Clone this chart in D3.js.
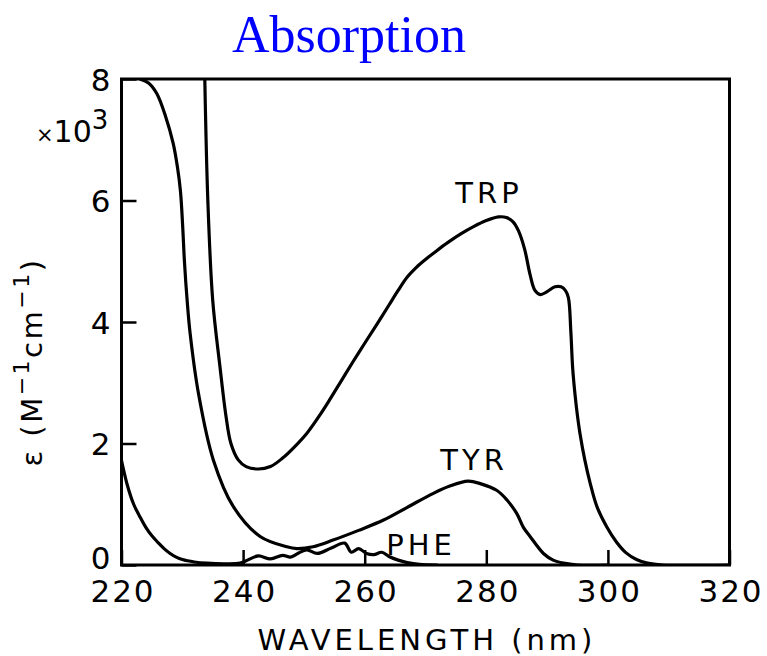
<!DOCTYPE html>
<html>
<head>
<meta charset="utf-8">
<script src="https://cdn.jsdelivr.net/npm/d3@7"></script>
<style>
  html, body { margin: 0; padding: 0; background: #fff; }
  svg { display: block; }
  .lbl { font-family: "DejaVu Sans", sans-serif; fill: #000; }
</style>
</head>
<body>
<svg id="chart" width="767" height="656"></svg>
<script>
// Molar absorptivity (x10^3 M^-1 cm^-1) of the aromatic amino acids vs wavelength (nm)
const trpWavelength = [233.7, 234.2, 235.0, 236.2, 237.2, 238.0, 239.2, 240.5, 242.5, 244.5, 246.5, 248.5, 250.5, 252.5, 254.3, 256.2, 258.1, 260.0, 262.0, 264.0, 265.5, 267.0, 268.5, 270.0, 271.8, 273.7, 275.8, 277.9, 280.0, 282.0, 283.3, 284.4, 285.3, 286.3, 287.2, 288.0, 288.9, 290.0, 291.3, 292.3, 293.0, 293.5, 293.9, 294.2, 294.6, 295.0, 295.4, 296.2, 297.1, 298.2, 299.8, 301.4, 303.0, 304.7, 306.5, 309.0, 320.0];
const trpEpsilon    = [8.00, 6.00, 4.36, 3.26, 2.44, 2.00, 1.73, 1.62, 1.58, 1.62, 1.76, 1.95, 2.17, 2.45, 2.73, 3.04, 3.35, 3.65, 3.96, 4.28, 4.52, 4.74, 4.90, 5.03, 5.17, 5.31, 5.45, 5.57, 5.67, 5.73, 5.72, 5.65, 5.50, 5.20, 4.78, 4.52, 4.45, 4.50, 4.58, 4.58, 4.52, 4.40, 3.85, 3.25, 2.80, 2.45, 2.17, 1.73, 1.34, 0.96, 0.63, 0.38, 0.20, 0.09, 0.03, 0.00, 0.00];

const tyrWavelength = [223.0, 224.5, 225.8, 227.2, 228.5, 229.2, 229.7, 230.05, 230.35, 230.8, 231.3, 232.7, 235.1, 238.4, 242.8, 247.2, 248.8, 251.5, 254.8, 259.0, 263.1, 267.0, 271.3, 274.0, 277.0, 279.0, 281.7, 283.4, 285.0, 286.1, 287.2, 289.4, 291.0, 292.7, 295.0, 300.0];
const tyrEpsilon    = [8.00, 7.93, 7.76, 7.40, 6.94, 6.55, 6.15, 5.60, 5.00, 4.35, 3.80, 2.80, 1.73, 0.96, 0.47, 0.30, 0.27, 0.30, 0.41, 0.57, 0.74, 0.95, 1.18, 1.30, 1.38, 1.34, 1.23, 1.07, 0.85, 0.62, 0.47, 0.19, 0.08, 0.03, 0.00, 0.00];

const pheWavelength = [220.0, 221.0, 222.0, 223.0, 224.0, 225.0, 226.0, 227.0, 228.0, 229.0, 230.0, 232.0, 234.0, 237.0, 239.5, 240.5, 242.5, 244.5, 246.5, 247.8, 249.0, 250.5, 252.2, 254.5, 256.7, 257.8, 259.0, 260.3, 261.5, 262.8, 264.0, 265.5, 267.0, 269.0, 272.0];
const pheEpsilon    = [1.72, 1.30, 1.00, 0.80, 0.62, 0.48, 0.37, 0.27, 0.19, 0.13, 0.09, 0.05, 0.03, 0.02, 0.03, 0.07, 0.15, 0.10, 0.16, 0.13, 0.19, 0.25, 0.19, 0.28, 0.36, 0.21, 0.27, 0.19, 0.17, 0.21, 0.14, 0.08, 0.04, 0.01, 0.00];

const seriesNames = ["TRP", "TYR", "PHE"];
const xTicks = [220, 240, 260, 280, 300, 320];
const yTicks = [0, 2, 4, 6, 8];

const svg = d3.select("#chart");
const plotLeft = 121.5, plotRight = 729.5, plotTop = 79, plotBottom = 565;

const x = d3.scaleLinear().domain([220, 320]).range([plotLeft, plotRight]);
const y = d3.scaleLinear().domain([0, 8]).range([plotBottom, plotTop]);

// title
svg.append("text")
  .attr("x", 349).attr("y", 52)
  .attr("text-anchor", "middle")
  .style("font-family", "'Liberation Serif', 'Times New Roman', serif")
  .style("font-size", "52px")
  .style("fill", "#0000ff")
  .text("Absorption");

// clip path for the curves
svg.append("clipPath").attr("id", "plotClip")
  .append("rect").attr("x", plotLeft).attr("y", plotTop)
  .attr("width", plotRight - plotLeft).attr("height", plotBottom - plotTop);

const line = d3.line()
  .x(d => x(d[0]))
  .y(d => y(d[1]))
  .curve(d3.curveCatmullRom.alpha(0.5));

const series = [
  { name: "TRP", w: trpWavelength, e: trpEpsilon },
  { name: "TYR", w: tyrWavelength, e: tyrEpsilon },
  { name: "PHE", w: pheWavelength, e: pheEpsilon }
];

svg.append("g").attr("clip-path", "url(#plotClip)")
  .selectAll("path")
  .data(series)
  .join("path")
  .attr("d", s => line(s.w.map((w, i) => [w, s.e[i]])))
  .attr("fill", "none")
  .attr("stroke", "#000")
  .attr("stroke-width", 3.2)
  .attr("stroke-linejoin", "round");

// axes with inward ticks
const xAxis = d3.axisBottom(x).tickValues(xTicks).tickSizeInner(-15).tickSizeOuter(0);
const yAxis = d3.axisLeft(y).tickValues(yTicks).tickSizeInner(-15).tickSizeOuter(0);

const gx = svg.append("g").attr("transform", `translate(0,${plotBottom})`).call(xAxis);
const gy = svg.append("g").attr("transform", `translate(${plotLeft},0)`).call(yAxis);

[gx, gy].forEach(g => {
  g.select(".domain").remove();
  g.selectAll(".tick line").attr("stroke", "#000").attr("stroke-width", 2.5);
  g.selectAll(".tick text")
    .attr("class", "lbl")
    .style("font-family", "'DejaVu Sans', sans-serif")
    .style("font-size", "31px")
    .style("letter-spacing", "2px")
    .attr("fill", "#000");
});
gx.selectAll(".tick text").attr("y", 14).attr("dy", "0.73em").attr("dx", "1px");
gy.selectAll(".tick text").attr("x", -9).attr("dy", "0.36em")
  .attr("y", d => d === 0 ? -8 : 0);

// frame
svg.append("rect")
  .attr("x", plotLeft).attr("y", plotTop)
  .attr("width", plotRight - plotLeft).attr("height", plotBottom - plotTop)
  .attr("fill", "none").attr("stroke", "#000").attr("stroke-width", 3);

// series labels
const labelPos = { TRP: [489, 203], TYR: [474, 470], PHE: [421, 555] };
svg.selectAll("text.series")
  .data(seriesNames)
  .join("text")
  .attr("class", "series lbl")
  .attr("x", d => labelPos[d][0])
  .attr("y", d => labelPos[d][1])
  .attr("text-anchor", "middle")
  .style("font-size", "29px")
  .style("letter-spacing", "4px")
  .text(d => d);

// multiplier
const mult = svg.append("text").attr("class", "lbl")
  .attr("x", 36).attr("y", 142)
  .style("font-size", "30px");
mult.append("tspan").style("font-size", "21px").text("×");
mult.append("tspan").text("10");
mult.append("tspan").attr("dy", -13).style("font-size", "26px").text("3");

// y-axis title
const yt = svg.append("text").attr("class", "lbl")
  .attr("transform", "translate(42,362) rotate(-90)")
  .attr("text-anchor", "middle")
  .style("font-size", "29px")
  .style("letter-spacing", "2.5px");
yt.append("tspan").text("ε (M");
yt.append("tspan").attr("dy", -13).style("font-size", "22px").text("−1");
yt.append("tspan").attr("dy", 13).text("cm");
yt.append("tspan").attr("dy", -13).style("font-size", "22px").text("−1");
yt.append("tspan").attr("dy", 13).text(")");

// x-axis title
svg.append("text").attr("class", "lbl")
  .attr("x", 427).attr("y", 650)
  .attr("text-anchor", "middle")
  .style("font-size", "29px")
  .style("letter-spacing", "4px")
  .text("WAVELENGTH (nm)");
</script>
</body>
</html>
